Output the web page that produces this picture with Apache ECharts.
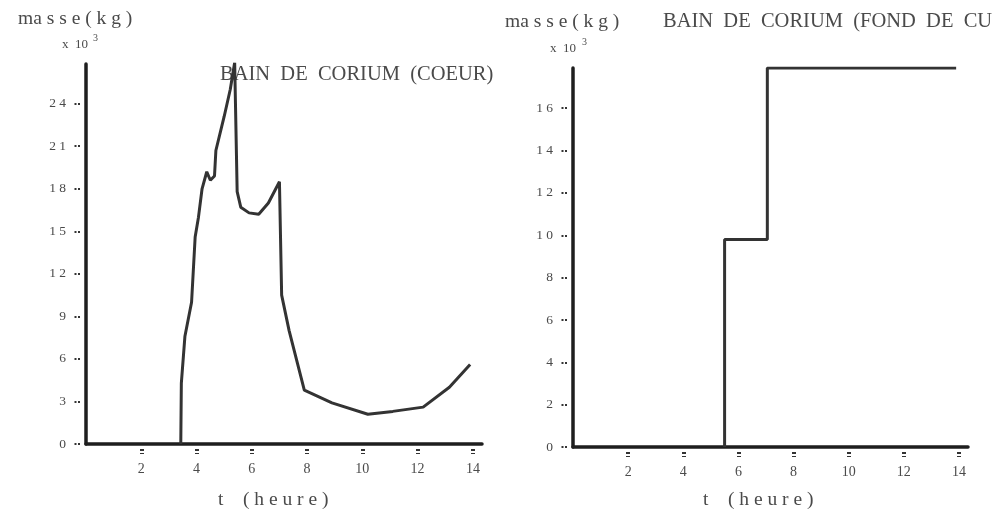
<!DOCTYPE html>
<html><head><meta charset="utf-8">
<script src="https://cdn.jsdelivr.net/npm/echarts@6/dist/echarts.min.js"></script>
<style>html,body{margin:0;padding:0;background:#fff}#c{width:1003px;height:514px}</style>
</head><body><div id="c"></div>
<script>
// Left panel: BAIN DE CORIUM (COEUR), mass x 10^3 kg vs time (h)
const coeurT    = [3.43, 3.45, 3.58, 3.82, 3.95, 4.07, 4.2, 4.37, 4.5, 4.65, 4.7, 5.0, 5.22, 5.38, 5.47, 5.6, 5.9, 6.25, 6.6, 7.0, 7.05, 7.08, 7.35, 7.9, 8.9, 10.2, 11.1, 12.2, 13.15, 13.9];
const coeurMass = [0, 4.3, 7.6, 10.0, 14.6, 16.0, 18.0, 19.2, 18.6, 18.9, 20.7, 23.1, 25.0, 26.9, 17.8, 16.7, 16.3, 16.2, 17.0, 18.5, 18.6, 10.5, 8.0, 3.8, 2.9, 2.1, 2.3, 2.6, 4.0, 5.6];
// Right panel: BAIN DE CORIUM (FOND DE CU...)
const fondT    = [5.5, 5.5, 7.05, 7.05, 13.9];
const fondMass = [0, 9.8, 9.8, 17.9, 17.9];
// Tick labels
const xTicks = [2, 4, 6, 8, 10, 12, 14];
const coeurYTicks = [0, 3, 6, 9, 12, 15, 18, 21, 24];
const fondYTicks = [0, 2, 4, 6, 8, 10, 12, 14, 16];

const txt = '#4a4a4a';
const serif = '"Liberation Serif", "DejaVu Serif", serif';
const axisCol = '#1e1e1e';

function spaced(v, sep) { return String(v).split('').join(sep); }

function xAxis(gi) {
  return {
    type: 'value', gridIndex: gi, min: 0, max: 14.33,
    splitLine: {show: false},
    axisLine: {show: true, onZero: false, lineStyle: {color: axisCol, width: 3.5}},
    axisTick: {show: true, customValues: xTicks, length: 10,
      lineStyle: {color: '#333', width: 4, type: [0, 5, 2, 2, 2, 20]}},
    axisLabel: {customValues: xTicks, margin: 18, color: txt, fontFamily: serif, fontSize: 14}
  };
}
function yAxis(gi, max, ticks) {
  return {
    type: 'value', gridIndex: gi, min: 0, max: max,
    splitLine: {show: false},
    axisLine: {show: true, onZero: false, lineStyle: {color: axisCol, width: 3.5}},
    axisTick: {show: true, customValues: ticks, length: 12,
      lineStyle: {color: '#333', width: 2, type: [0, 6, 2, 1.5, 2, 20]}},
    axisLabel: {customValues: ticks, margin: 20, color: txt, fontFamily: serif, fontSize: 13.5,
      formatter: v => spaced(v, ' ')}
  };
}

const chart = echarts.init(document.getElementById('c'), null, {renderer: 'canvas'});
chart.setOption({
  backgroundColor: '#ffffff',
  animation: false,
  grid: [
    {left: 86, top: 64, width: 396, height: 380, outerBoundsMode: 'none', containLabel: false},
    {left: 573, top: 68, width: 395, height: 379, outerBoundsMode: 'none', containLabel: false}
  ],
  xAxis: [xAxis(0), xAxis(1)],
  yAxis: [yAxis(0, 26.8, coeurYTicks), yAxis(1, 17.9, fondYTicks)],
  series: [
    {type: 'line', xAxisIndex: 0, yAxisIndex: 0, showSymbol: false, silent: true,
     data: coeurT.map((t, i) => [t, coeurMass[i]]),
     lineStyle: {color: '#333333', width: 3}},
    {type: 'line', xAxisIndex: 1, yAxisIndex: 1, showSymbol: false, silent: true,
     data: fondT.map((t, i) => [t, fondMass[i]]),
     lineStyle: {color: '#333333', width: 3}}
  ],
  graphic: [
    {type: 'text', left: 18, top: 9, style: {text: 'ma s s e ( k g )', fill: txt, font: '19.5px ' + serif}},
    {type: 'text', left: 62, top: 38, style: {text: 'x  10', fill: txt, font: '13px ' + serif}},
    {type: 'text', left: 93, top: 33, style: {text: '3', fill: txt, font: '10px ' + serif}},
    {type: 'text', left: 220, top: 64, style: {text: 'BAIN  DE  CORIUM  (COEUR)', fill: txt, font: '20.5px ' + serif}},
    {type: 'text', left: 218, top: 490, style: {text: 't    ( h e u r e )', fill: txt, font: '19.5px ' + serif}},

    {type: 'text', left: 505, top: 12, style: {text: 'ma s s e ( k g )', fill: txt, font: '19.5px ' + serif}},
    {type: 'text', left: 550, top: 42, style: {text: 'x  10', fill: txt, font: '13px ' + serif}},
    {type: 'text', left: 582, top: 37, style: {text: '3', fill: txt, font: '10px ' + serif}},
    {type: 'text', left: 663, top: 11, style: {text: 'BAIN  DE  CORIUM  (FOND  DE  CU', fill: txt, font: '20.5px ' + serif}},
    {type: 'text', left: 703, top: 490, style: {text: 't    ( h e u r e )', fill: txt, font: '19.5px ' + serif}}
  ]
});
</script></body></html>
